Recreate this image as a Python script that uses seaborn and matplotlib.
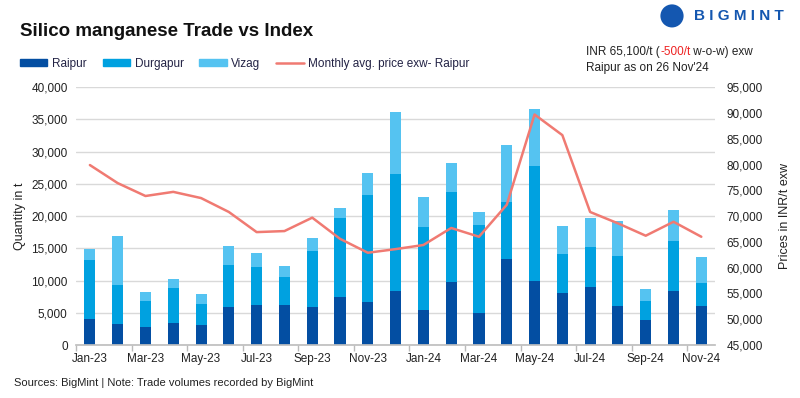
import matplotlib.pyplot as plt
import seaborn as sns
import pandas as pd
import numpy as np
from matplotlib.lines import Line2D
from matplotlib.patches import Patch, Ellipse
from matplotlib.ticker import FuncFormatter, FixedLocator

sns.set_theme(style="white")
plt.rcParams['font.family'] = ['Liberation Sans', 'DejaVu Sans']

months = ["Jan-23", "Feb-23", "Mar-23", "Apr-23", "May-23", "Jun-23", "Jul-23", "Aug-23",
          "Sep-23", "Oct-23", "Nov-23", "Dec-23", "Jan-24", "Feb-24", "Mar-24", "Apr-24",
          "May-24", "Jun-24", "Jul-24", "Aug-24", "Sep-24", "Oct-24", "Nov-24"]
raipur = [4100, 3300, 2850, 3450, 3150, 5950, 6250, 6250, 5950, 7500, 6700, 8450,
          5450, 9800, 5000, 13400, 9950, 8100, 9050, 6100, 3950, 8450, 6100]
durgapur = [9100, 6000, 4000, 5400, 3250, 6500, 5900, 4350, 8650, 12250, 16600, 18100,
            12900, 13950, 13650, 8800, 17850, 6050, 6200, 7750, 2950, 7700, 3550]
vizag = [1700, 7600, 1400, 1400, 1550, 2950, 2150, 1700, 2000, 1550, 3400, 9650,
         4650, 4500, 2000, 8850, 8850, 4350, 4500, 5450, 1850, 4800, 4050]
price = [79900, 76400, 73900, 74700, 73500, 70800, 66900, 67100, 69700, 65600, 62900, 63600,
         64400, 67700, 66000, 72200, 89700, 85700, 70800, 68600, 66200, 68900, 66000]

c_raipur = "#034ea2"
c_durg = "#00a1e0"
c_vizag = "#55c3f1"
c_line = "#f07a72"

df = pd.DataFrame({"month": months, "raipur": raipur, "durgapur": durgapur, "vizag": vizag})
df["rd"] = df["raipur"] + df["durgapur"]
df["total"] = df["rd"] + df["vizag"]

fig = plt.figure(figsize=(8, 3.98), dpi=100)
ax = fig.add_axes([0.095, 0.133, 0.799, 0.648])

# stacked bars: draw totals first, then overlay the lower segments
sns.barplot(data=df, x="month", y="total", color=c_vizag, width=0.4, saturation=1, linewidth=0, ax=ax)
sns.barplot(data=df, x="month", y="rd", color=c_durg, width=0.4, saturation=1, linewidth=0, ax=ax)
sns.barplot(data=df, x="month", y="raipur", color=c_raipur, width=0.4, saturation=1, linewidth=0, ax=ax)

ax.set_ylim(0, 40000)
ax.set_xlim(-0.5, len(months) - 0.5)
ax.set_yticks(np.arange(0, 40001, 5000))
ax.yaxis.set_major_formatter(FuncFormatter(lambda v, p: f"{int(v):,}"))
ax.set_xticks(np.arange(0, len(months), 2))
ax.set_xticklabels(months[::2])
ax.xaxis.set_minor_locator(FixedLocator(np.arange(-0.5, len(months), 2)))
ax.tick_params(axis="x", which="major", length=0, labelsize=8.5, colors="#222222", pad=6)
ax.tick_params(axis="x", which="minor", length=4, color="#bbbbbb", bottom=True)
ax.tick_params(axis="y", length=0, labelsize=8.5, colors="#222222", pad=6)
ax.set_xlabel("")
ax.set_ylabel("Quantity in t", fontsize=9, color="#222222", labelpad=4)
ax.yaxis.grid(True, color="#d9d9d9", lw=1)
ax.set_axisbelow(True)
for s in ["top", "right", "left"]:
    ax.spines[s].set_visible(False)
ax.spines["bottom"].set_color("#bfbfbf")

ax2 = ax.twinx()
sns.lineplot(x=np.arange(len(months)), y=price, color=c_line, lw=1.8, ax=ax2)
ax2.set_ylim(45000, 95000)
ax2.set_yticks(np.arange(45000, 95001, 5000))
ax2.yaxis.set_major_formatter(FuncFormatter(lambda v, p: f"{int(v):,}"))
ax2.tick_params(axis="y", length=0, labelsize=8.5, colors="#222222", pad=8)
ax2.set_ylabel("Prices in INR/t exw", fontsize=9, color="#222222", labelpad=12)
for s in ax2.spines.values():
    s.set_visible(False)
ax2.set_xlim(-0.5, len(months) - 0.5)

fig.text(0.025, 0.922, "Silico manganese Trade vs Index", fontsize=13.5, fontweight="bold",
         color="#111111", va="center")

handles = [Patch(color=c_raipur), Patch(color=c_durg), Patch(color=c_vizag),
           Line2D([0], [0], color=c_line, lw=1.8)]
labels = ["Raipur", "Durgapur", "Vizag", "Monthly avg. price exw- Raipur"]
fig.legend(handles, labels, loc="center left", bbox_to_anchor=(0.012, 0.84), ncol=4,
           frameon=False, fontsize=8.5, handlelength=2.3, handleheight=0.5,
           columnspacing=1.35, handletextpad=0.4, labelcolor="#222244")

t1 = fig.text(0.733, 0.862, "INR 65,100/t (", fontsize=8.5, color="#222222", va="baseline")
t2 = ax.annotate("-500/t", xy=(1, 0), xycoords=t1, fontsize=8.5, color="#ee2222", va="bottom")
t3 = ax.annotate(" w-o-w) exw", xy=(1, 0), xycoords=t2, fontsize=8.5, color="#222222", va="bottom")
fig.text(0.733, 0.822, "Raipur as on 26 Nov'24", fontsize=8.5, color="#222222", va="baseline")

# logo
fig.patches.append(Ellipse((0.84, 0.96), 0.029, 0.058, transform=fig.transFigure,
                           facecolor="#1457b0", edgecolor="none"))
fig.text(0.868, 0.96, "B I G M I N T", fontsize=11, fontweight="bold", color="#1457b0",
         va="center")

fig.text(0.018, 0.038, "Sources: BigMint | Note: Trade volumes recorded by BigMint",
         fontsize=8, color="#222222", family=["Liberation Sans Narrow", "Liberation Sans"],
         va="center")

fig.savefig("out.png", dpi=100)
